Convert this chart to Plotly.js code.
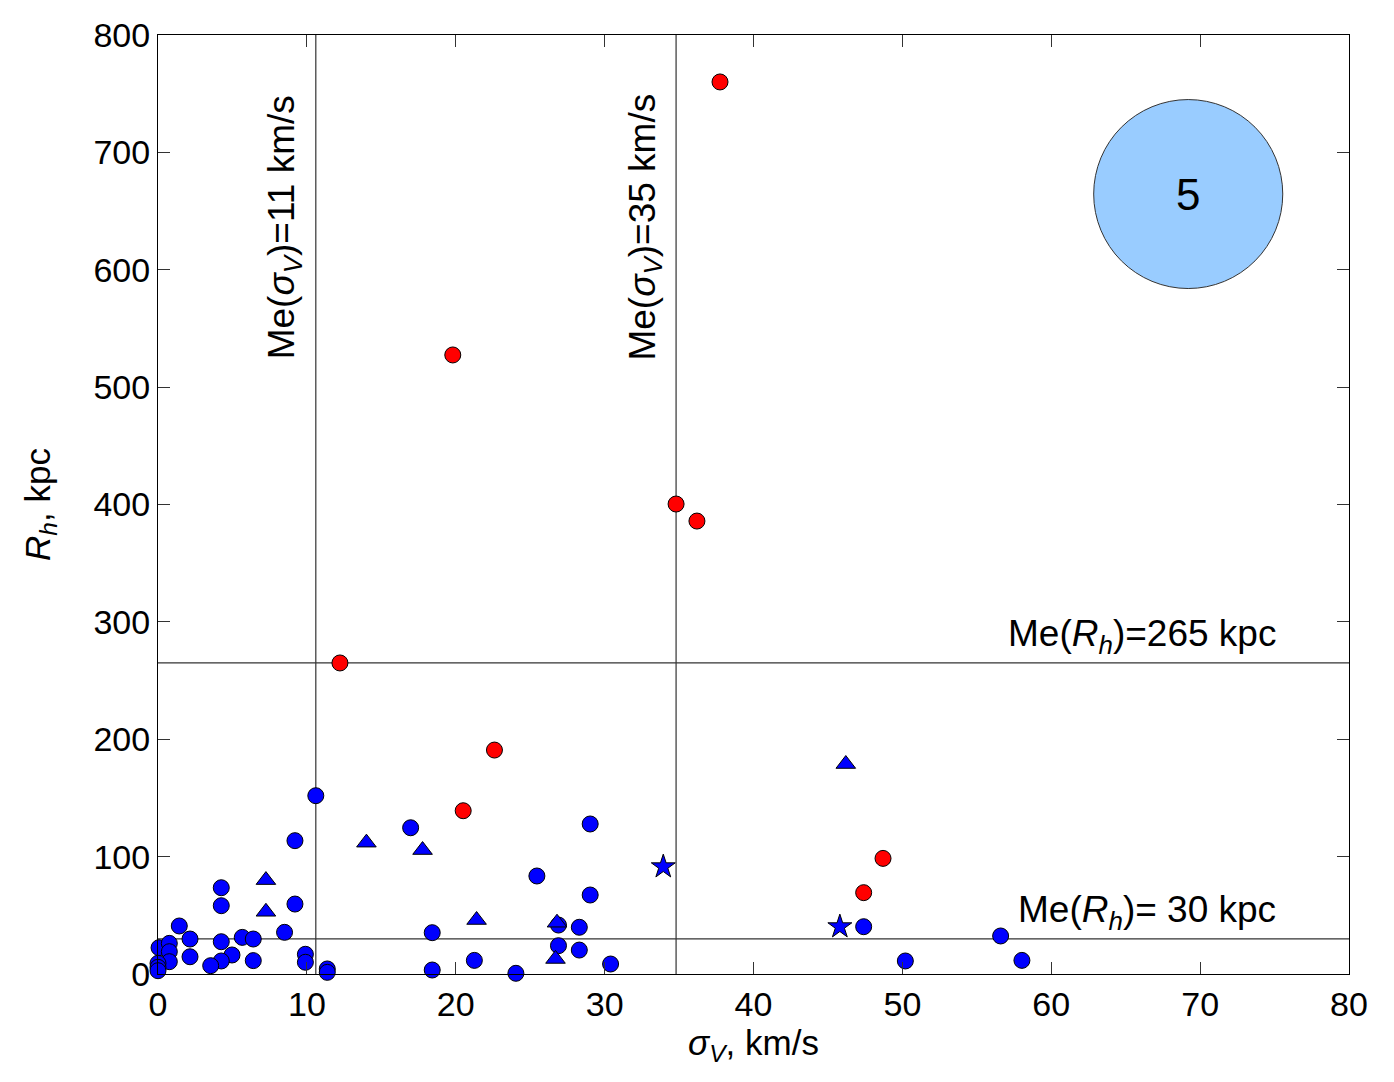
<!DOCTYPE html>
<html>
<head>
<meta charset="utf-8">
<script src="https://cdn.plot.ly/plotly-3.0.1.min.js"></script>
<style>body{margin:0;background:#fff}#chart{width:1394px;height:1082px}</style>
</head>
<body>
<div id="chart"></div>
<script>
// Blue circles
var blueCircSigma = [10.6, 9.2, 4.25, 4.25, 9.2, 1.43, 8.5, 2.15, 4.25, 5.66, 6.4, 0.07, 0.76, 0.76, 0.76, 2.15, 4.97, 4.25, 3.54, 6.4, 9.9, 9.9, 11.37, 11.37, 0.0, 0.0, 0.0,
  16.97, 29.03, 25.45, 29.03, 18.42, 26.9, 28.3, 26.9, 28.3, 21.25, 18.42, 24.04, 30.4,
  47.4, 56.6, 50.2, 58.03];
var blueCircR = [151.9, 113.6, 73.5, 58.2, 59.6, 40.9, 35.5, 29.8, 27.5, 31.2, 29.8, 22.4, 26.1, 19, 10.5, 14.7, 16.2, 11.1, 7.1, 11.4, 16.8, 10, 4.3, 1.4, 9.1, 5.7, 2.8,
  124.6, 127.8, 83.5, 67.3, 35.2, 41.7, 39.8, 24.1, 20.4, 11.6, 3.4, 0.6, 8.5,
  40.3, 32.4, 11.1, 11.6];
// Blue triangles
var blueTriSigma = [7.25, 7.25, 14.0, 17.77, 21.4, 26.8, 26.7, 46.2];
var blueTriR = [80, 53, 111.9, 105.6, 46, 43.7, 12.8, 178.9];
// Blue stars
var blueStarSigma = [33.94, 45.8];
var blueStarR = [91.4, 40.3];
// Red circles
var redSigma = [37.75, 19.8, 34.8, 36.2, 12.22, 22.6, 20.5, 48.7, 47.4];
var redR = [760, 527.4, 400.4, 385.9, 265, 190.8, 139.1, 98.5, 69.3];
// Medians (as drawn)
var medSigma = [10.6, 34.8];
var medSigmaLabels = ['11', '35'];
var medR = [265, 30];
var medRLabels = ['265', ' 30'];
// Bubble label
var bubble = {x: 69.2, y: 664.5, text: '5'};

var FONT = 'Liberation Sans, Arial, sans-serif';
var mk = function(sym, color, size){return {symbol: sym, color: color, size: size, line: {color: '#000', width: 1}};};

var traces = [
  {x: blueCircSigma, y: blueCircR, mode: 'markers', type: 'scatter', marker: mk('circle', '#0000ff', 16), cliponaxis: false},
  {x: blueTriSigma, y: blueTriR, mode: 'markers', type: 'scatter', marker: mk('triangle-up', '#0000ff', 17), cliponaxis: false},
  {x: blueStarSigma, y: blueStarR, mode: 'markers', type: 'scatter', marker: mk('star', '#0000ff', 18), cliponaxis: false},
  {x: redSigma, y: redR, mode: 'markers', type: 'scatter', marker: mk('circle', '#ff0000', 16), cliponaxis: false}
];

var shapes = [];
medSigma.forEach(function(v){
  shapes.push({type: 'line', xref: 'x', yref: 'paper', x0: v, x1: v, y0: 0, y1: 1, line: {color: '#333', width: 1.2}, layer: 'below'});
});
medR.forEach(function(r){
  shapes.push({type: 'line', xref: 'paper', yref: 'y', x0: 0, x1: 1, y0: r, y1: r, line: {color: '#333', width: 1.2}, layer: 'below'});
});
shapes.push({type: 'circle', xref: 'x', yref: 'y', x0: bubble.x - 6.35, x1: bubble.x + 6.35, y0: bubble.y - 80.5, y1: bubble.y + 80.5,
  fillcolor: '#99ccff', line: {color: '#333', width: 1}});

var annotations = [];
medSigma.forEach(function(v, i){
  annotations.push({x: v, xref: 'x', y: 0.795, yref: 'paper', xanchor: 'right', yanchor: 'middle', xshift: -6, textangle: -90,
    text: 'Me(<i>σ</i><sub><i>V</i></sub>)=' + medSigmaLabels[i] + ' km/s', showarrow: false, font: {family: FONT, size: 37, color: '#000'}});
});
medR.forEach(function(r, i){
  annotations.push({x: 0.94, xref: 'paper', y: r, yref: 'y', xanchor: 'right', yanchor: 'bottom', yshift: 2,
    text: 'Me(<i>R</i><sub><i>h</i></sub>)=' + medRLabels[i] + ' kpc', showarrow: false, font: {family: FONT, size: 37, color: '#000'}});
});
annotations.push({x: bubble.x, y: bubble.y, xref: 'x', yref: 'y', text: bubble.text, showarrow: false, font: {family: FONT, size: 44, color: '#000'}});

var layout = {
  width: 1394, height: 1082,
  margin: {l: 158, r: 45, t: 35, b: 108},
  paper_bgcolor: '#fff', plot_bgcolor: '#fff',
  showlegend: false,
  font: {family: FONT, size: 34, color: '#000'},
  xaxis: {
    range: [0, 80], dtick: 10, tick0: 0, ticks: 'inside', ticklen: 12, tickcolor: '#333', mirror: 'ticks',
    showline: true, linecolor: '#000', linewidth: 1, showgrid: false, zeroline: false,
    tickfont: {family: FONT, size: 34}, title: {text: '<i>σ</i><sub><i>V</i></sub>, km/s', font: {family: FONT, size: 35}, standoff: 8}
  },
  yaxis: {
    range: [0, 800], dtick: 100, tick0: 0, ticks: 'inside', ticklen: 12, tickcolor: '#333', mirror: 'ticks',
    showline: true, linecolor: '#000', linewidth: 1, showgrid: false, zeroline: false,
    tickfont: {family: FONT, size: 34}, title: {text: '<i>R</i><sub><i>h</i></sub>, kpc', font: {family: FONT, size: 35}, standoff: 32}
  },
  shapes: shapes,
  annotations: annotations
};

Plotly.newPlot('chart', traces, layout, {displayModeBar: false, staticPlot: true});
</script>
</body>
</html>
